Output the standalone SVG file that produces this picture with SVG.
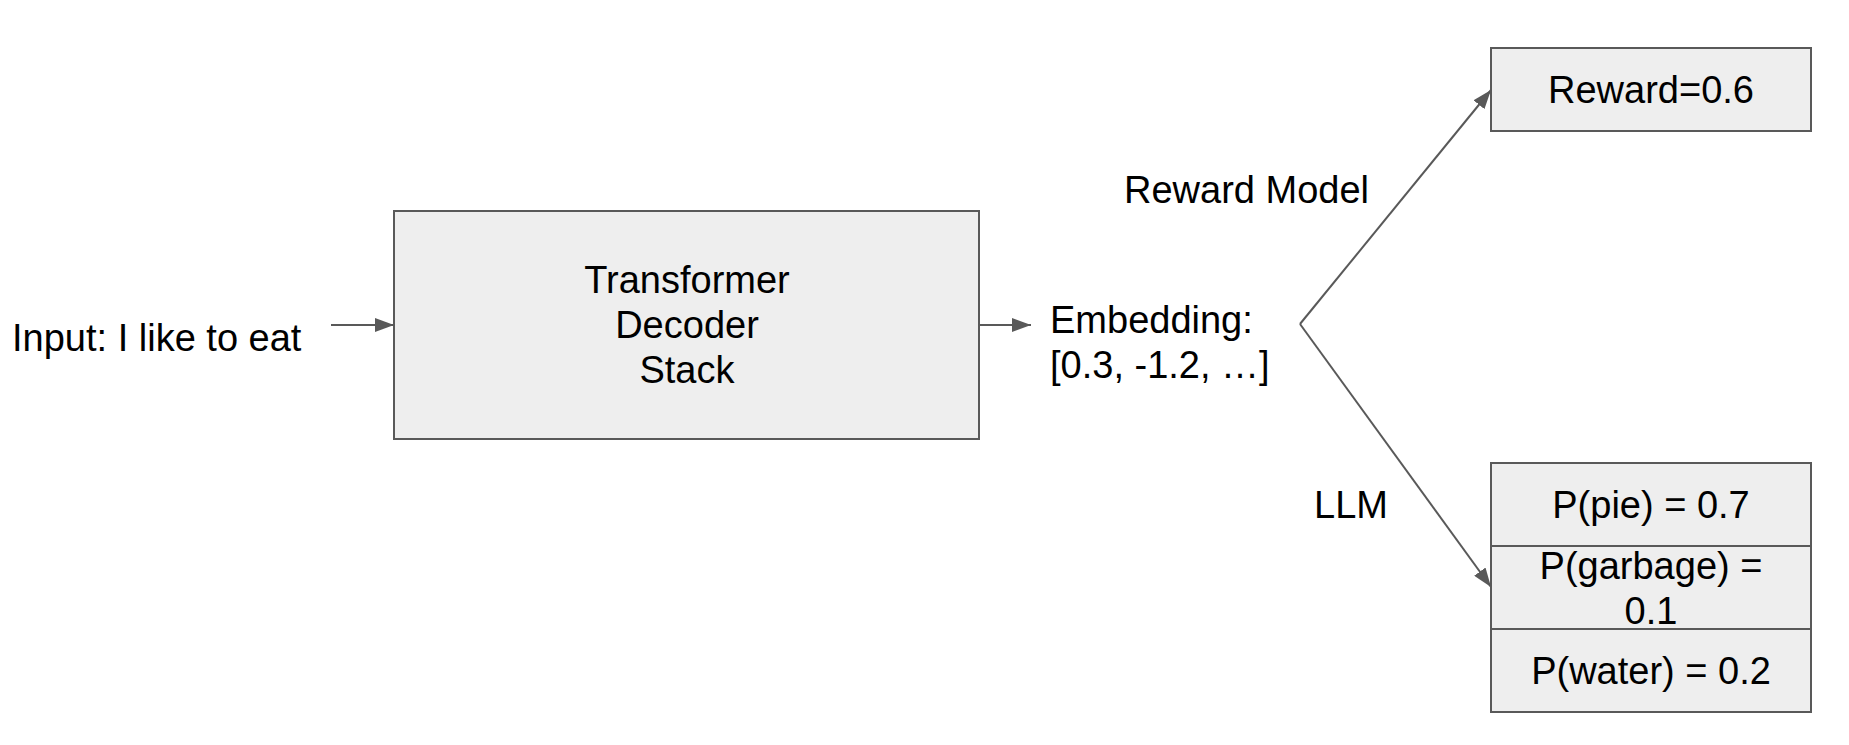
<svg xmlns="http://www.w3.org/2000/svg" width="1849" height="745" viewBox="0 0 1849 745">
<style>
.box{fill:#eeeeee;stroke:#595959;stroke-width:2}
.t{font-family:"Liberation Sans",Arial,sans-serif;font-size:38px;fill:#000}
.c{text-anchor:middle}
.conn{fill:none;stroke:#595959;stroke-width:2}
</style>
<defs>
<marker id="ah" markerUnits="userSpaceOnUse" markerWidth="20" markerHeight="14" refX="19" refY="7" orient="auto">
<path d="M0,0 L19,7 L0,14 Z" fill="#595959"/>
</marker>
</defs>
<rect width="1849" height="745" fill="#ffffff"/>
<g id="input">
<text class="t" x="12" y="351">Input: I like to eat</text>
</g>
<g id="decoder">
<rect class="box" x="394" y="211" width="585" height="228"/>
<text class="t c" x="687" y="293">Transformer</text>
<text class="t c" x="687" y="338">Decoder</text>
<text class="t c" x="687" y="383">Stack</text>
</g>
<g id="embedding">
<text class="t" x="1050" y="333">Embedding:</text>
<text class="t" x="1050" y="378">[0.3, -1.2, …]</text>
</g>
<g id="reward">
<rect class="box" x="1491" y="48" width="320" height="83"/>
<text class="t c" x="1651" y="103">Reward=0.6</text>
</g>
<g id="probs">
<rect class="box" x="1491" y="463" width="320" height="83"/>
<text class="t c" x="1651" y="518">P(pie) = 0.7</text>
<rect class="box" x="1491" y="546" width="320" height="83"/>
<text class="t c" x="1651" y="579">P(garbage) =</text>
<text class="t c" x="1651" y="624">0.1</text>
<rect class="box" x="1491" y="629" width="320" height="83"/>
<text class="t c" x="1651" y="684">P(water) = 0.2</text>
</g>
<g id="labels">
<text class="t" x="1124" y="203">Reward Model</text>
<text class="t" x="1314" y="518">LLM</text>
</g>
<g id="connectors">
<line class="conn" x1="331" y1="325" x2="394" y2="325" marker-end="url(#ah)"/>
<line class="conn" x1="979" y1="325" x2="1031" y2="325" marker-end="url(#ah)"/>
<line class="conn" x1="1300" y1="324" x2="1491" y2="90" marker-end="url(#ah)"/>
<line class="conn" x1="1300" y1="324" x2="1491" y2="587" marker-end="url(#ah)"/>
</g>
</svg>
